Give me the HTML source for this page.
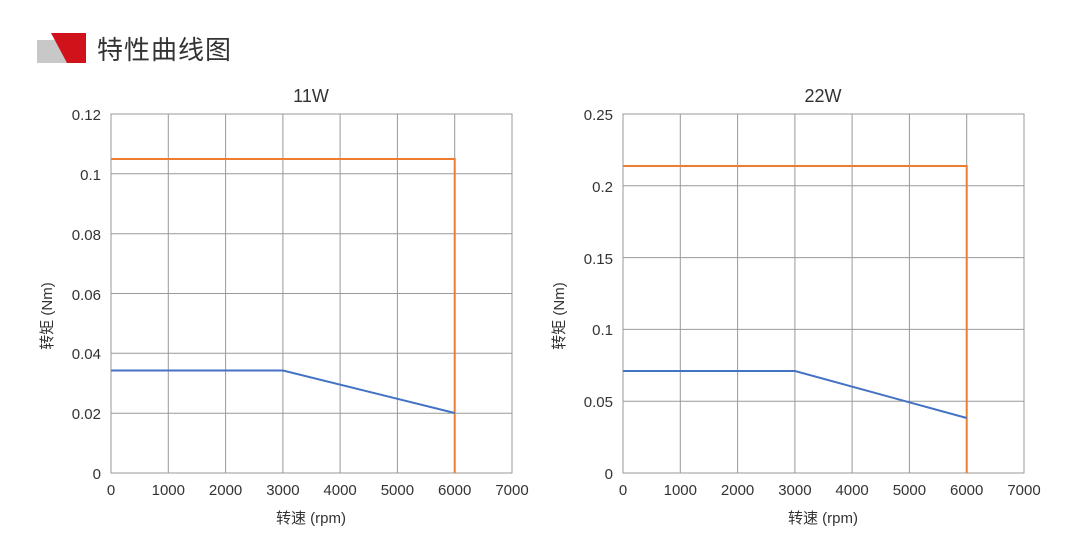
<!DOCTYPE html>
<html><head><meta charset="utf-8"><style>
html,body{margin:0;padding:0;background:#fff;}
svg text{font-family:"Liberation Sans","Noto Sans CJK SC",sans-serif;fill:#333;}
</style></head><body>
<svg width="1080" height="533" viewBox="0 0 1080 533" xmlns="http://www.w3.org/2000/svg">
<polygon points="37,40 60,40 68,63 37,63" fill="#c8c8c8"/>
<polygon points="51,33 86,33 86,63 67,63" fill="#d0121b"/>
<text x="97" y="59" font-size="26" letter-spacing="1" style="fill:#333">特性曲线图</text>

<g id="c1">
<text x="311" y="102" font-size="18" text-anchor="middle">11W</text>
<g stroke="#999" stroke-width="1" fill="none">
<rect x="111" y="114" width="401" height="359"/>
<line x1="168.3" y1="114" x2="168.3" y2="473"/><line x1="225.6" y1="114" x2="225.6" y2="473"/>
<line x1="282.9" y1="114" x2="282.9" y2="473"/><line x1="340.1" y1="114" x2="340.1" y2="473"/>
<line x1="397.4" y1="114" x2="397.4" y2="473"/><line x1="454.7" y1="114" x2="454.7" y2="473"/>
<line x1="111" y1="173.8" x2="512" y2="173.8"/><line x1="111" y1="233.7" x2="512" y2="233.7"/>
<line x1="111" y1="293.5" x2="512" y2="293.5"/><line x1="111" y1="353.3" x2="512" y2="353.3"/>
<line x1="111" y1="413.2" x2="512" y2="413.2"/>
</g>
<polyline points="111,159 454.7,159 454.7,473" fill="none" stroke="#ed7d31" stroke-width="2"/>
<polyline points="111,370.5 283,370.5 454.7,413" fill="none" stroke="#4472c4" stroke-width="2"/>
<g font-size="15" text-anchor="end">
<text x="101" y="120">0.12</text><text x="101" y="180">0.1</text><text x="101" y="240">0.08</text>
<text x="101" y="300">0.06</text><text x="101" y="359">0.04</text><text x="101" y="419">0.02</text><text x="101" y="479">0</text>
</g>
<g font-size="15" text-anchor="middle">
<text x="111" y="495">0</text><text x="168.3" y="495">1000</text><text x="225.6" y="495">2000</text><text x="282.9" y="495">3000</text>
<text x="340.1" y="495">4000</text><text x="397.4" y="495">5000</text><text x="454.7" y="495">6000</text><text x="512" y="495">7000</text>
<text x="311" y="523">转速 (rpm)</text>
<text transform="translate(52,316) rotate(-90)">转矩 (Nm)</text>
</g>
</g>

<g id="c2">
<text x="823" y="102" font-size="18" text-anchor="middle">22W</text>
<g stroke="#999" stroke-width="1" fill="none">
<rect x="623" y="114" width="401" height="359"/>
<line x1="680.3" y1="114" x2="680.3" y2="473"/><line x1="737.6" y1="114" x2="737.6" y2="473"/>
<line x1="794.9" y1="114" x2="794.9" y2="473"/><line x1="852.1" y1="114" x2="852.1" y2="473"/>
<line x1="909.4" y1="114" x2="909.4" y2="473"/><line x1="966.7" y1="114" x2="966.7" y2="473"/>
<line x1="623" y1="185.8" x2="1024" y2="185.8"/><line x1="623" y1="257.6" x2="1024" y2="257.6"/>
<line x1="623" y1="329.4" x2="1024" y2="329.4"/><line x1="623" y1="401.2" x2="1024" y2="401.2"/>
</g>
<polyline points="623,166 966.7,166 966.7,473" fill="none" stroke="#ed7d31" stroke-width="2"/>
<polyline points="623,371 795,371 966.7,418" fill="none" stroke="#4472c4" stroke-width="2"/>
<g font-size="15" text-anchor="end">
<text x="613" y="120">0.25</text><text x="613" y="192">0.2</text><text x="613" y="264">0.15</text>
<text x="613" y="335">0.1</text><text x="613" y="407">0.05</text><text x="613" y="479">0</text>
</g>
<g font-size="15" text-anchor="middle">
<text x="623" y="495">0</text><text x="680.3" y="495">1000</text><text x="737.6" y="495">2000</text><text x="794.9" y="495">3000</text>
<text x="852.1" y="495">4000</text><text x="909.4" y="495">5000</text><text x="966.7" y="495">6000</text><text x="1024" y="495">7000</text>
<text x="823" y="523">转速 (rpm)</text>
<text transform="translate(564,316) rotate(-90)">转矩 (Nm)</text>
</g>
</g>
</svg>
</body></html>
